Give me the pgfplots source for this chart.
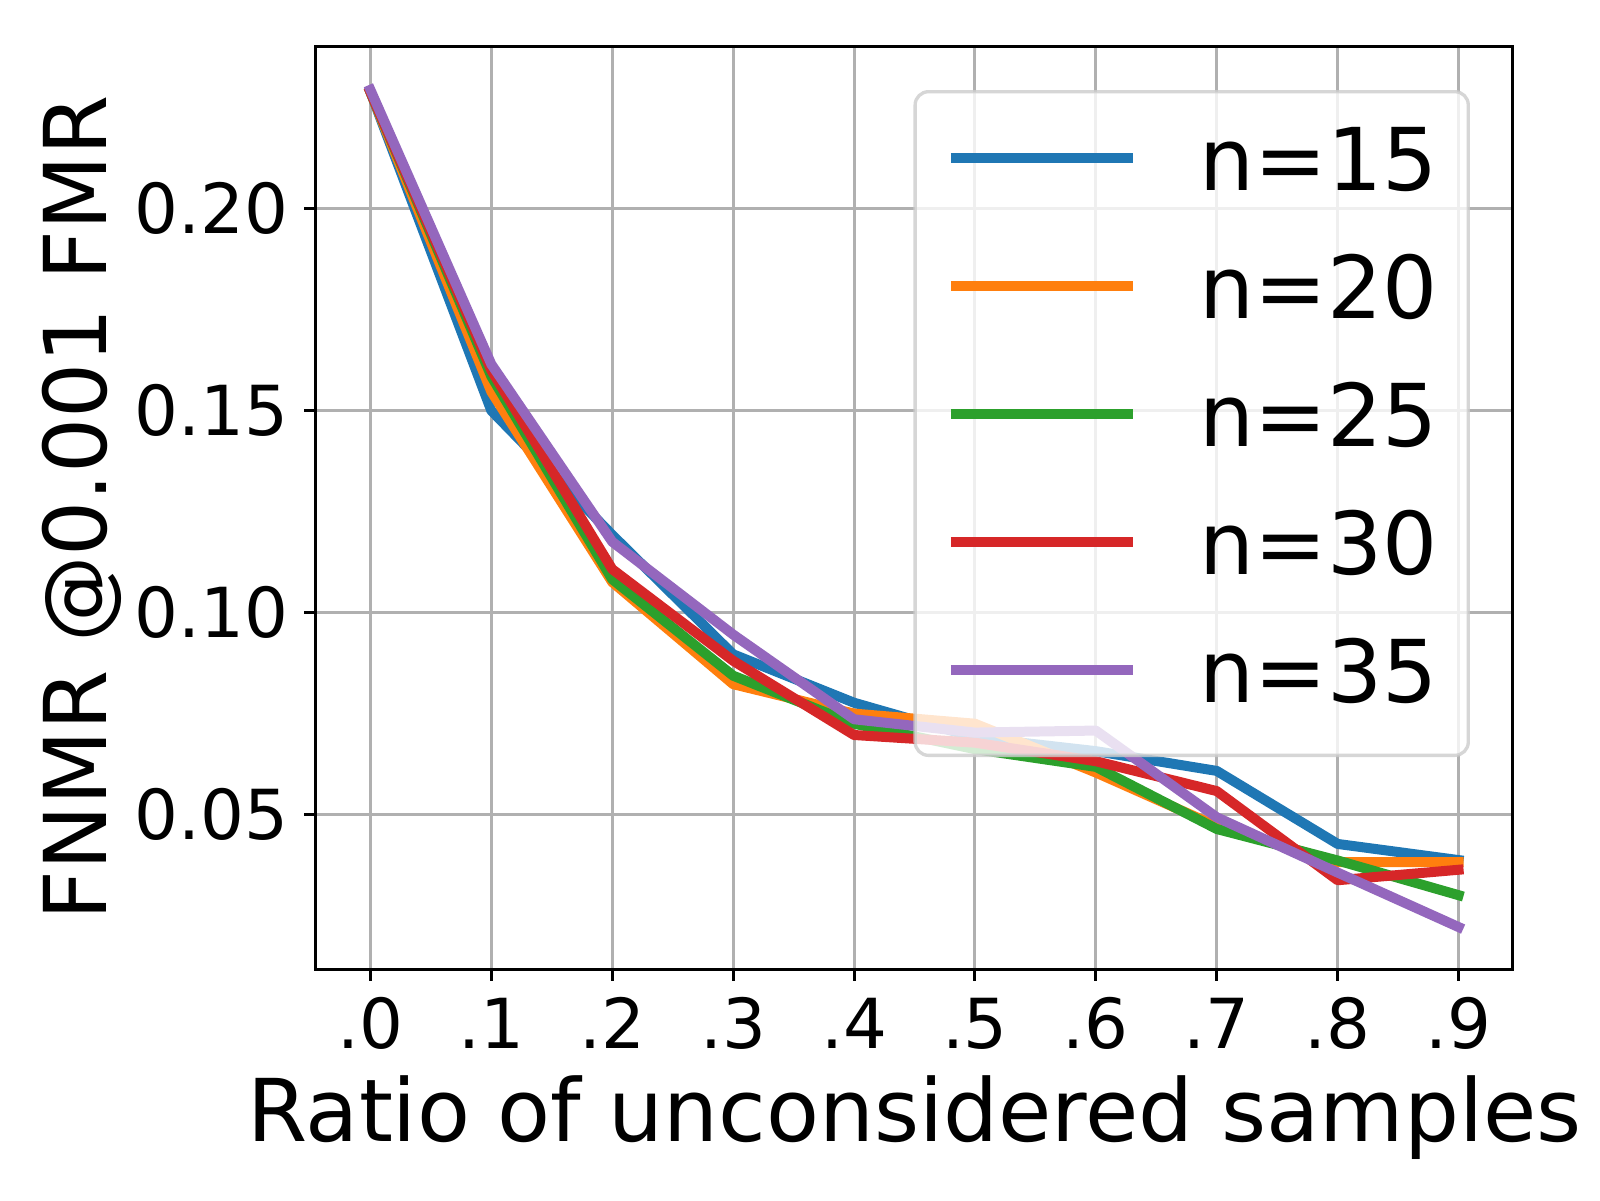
\documentclass[border=0pt]{standalone}
\usepackage{pgfplots}
\pgfplotsset{compat=1.18}
\usepackage{fontspec}
\setmainfont{DejaVu Sans}
\definecolor{c0}{HTML}{1F77B4}
\definecolor{c1}{HTML}{FF7F0E}
\definecolor{c2}{HTML}{2CA02C}
\definecolor{c3}{HTML}{D62728}
\definecolor{c4}{HTML}{9467BD}
\definecolor{gridc}{HTML}{B0B0B0}
\definecolor{legc}{HTML}{CCCCCC}
\begin{document}
\begin{tikzpicture}
\begin{axis}[
  at={(0,0)}, anchor=south west,
  scale only axis, width=359.1pt, height=276.7pt,
  xmin=-0.045, xmax=0.945, ymin=0.0116, ymax=0.2402,
  xtick={0,0.1,0.2,0.3,0.4,0.5,0.6,0.7,0.8,0.9},
  xticklabels={.0,.1,.2,.3,.4,.5,.6,.7,.8,.9},
  ytick={0.05,0.10,0.15,0.20},
  yticklabels={0.05,0.10,0.15,0.20},
  /pgf/number format/assume math mode=true,
  tick align=outside, tick pos=left,
  major tick length=3.5pt,
  every tick/.style={black, line width=0.9pt},
  axis line style={line width=0.9pt},
  grid=major,
  major grid style={gridc, line width=0.9pt},
  tick label style={font=\fontsize{20.7}{24}\selectfont},
  xticklabel style={anchor=base, inner sep=0pt, yshift=-20.4pt},
  yticklabel style={anchor=east, inner sep=0pt, xshift=-4.7pt},
  xlabel={Ratio of unconsidered samples},
  ylabel={FNMR @0.001 FMR},
  every axis x label/.style={at={(axis description cs:0.5,-0.1865)}, anchor=base, font=\fontsize{26}{31}\selectfont},
  every axis y label/.style={at={(axis description cs:-0.1754,0.5)}, rotate=90, anchor=base, font=\fontsize{26}{31}\selectfont},
  every axis plot/.append style={line width=3pt, line join=round, line cap=rect},
  legend image code/.code={\draw[#1, draw opacity=1, line cap=butt] (0pt,3pt) -- (54.6pt,3pt);},
  legend cell align=left,
  legend style={at={(1,1)}, anchor=north east, xshift=-12.9pt, yshift=-13pt,
    draw=legc, line width=1pt, rounded corners=4pt, fill=white, fill opacity=0.8,
    draw opacity=0.8, text opacity=1,
    font=\fontsize{26}{31}\selectfont,
    inner xsep=9.2pt, inner ysep=10pt, row sep=12.9pt,
    nodes={inner sep=0pt, text height=19.5pt, text depth=6pt},
    /tikz/every odd column/.append style={column sep=18.6pt}},
]
\addplot[c0] coordinates {(0,0.2290) (0.1,0.1500) (0.2,0.1192) (0.3,0.0896) (0.4,0.0776) (0.5,0.0690) (0.6,0.0656) (0.7,0.0607) (0.8,0.0426) (0.9,0.0386)};
\addlegendentry{n=15}
\addplot[c1] coordinates {(0,0.2290) (0.1,0.1547) (0.2,0.1075) (0.3,0.0822) (0.4,0.0749) (0.5,0.0724) (0.6,0.0603) (0.7,0.0470) (0.8,0.0381) (0.9,0.0381)};
\addlegendentry{n=20}
\addplot[c2] coordinates {(0,0.2290) (0.1,0.1585) (0.2,0.1082) (0.3,0.0843) (0.4,0.0724) (0.5,0.0661) (0.6,0.0617) (0.7,0.0463) (0.8,0.0385) (0.9,0.0299)};
\addlegendentry{n=25}
\addplot[c3] coordinates {(0,0.2290) (0.1,0.1600) (0.2,0.1107) (0.3,0.0880) (0.4,0.0696) (0.5,0.0677) (0.6,0.0631) (0.7,0.0557) (0.8,0.0336) (0.9,0.0362)};
\addlegendentry{n=30}
\addplot[c4] coordinates {(0,0.2295) (0.1,0.1615) (0.2,0.1175) (0.3,0.0945) (0.4,0.0735) (0.5,0.0702) (0.6,0.0707) (0.7,0.0492) (0.8,0.0355) (0.9,0.0220)};
\addlegendentry{n=35}
\end{axis}
\pgfresetboundingbox
\path (-94.8pt,-69.3pt) rectangle (385.2pt,290.7pt);
\end{tikzpicture}
\end{document}
